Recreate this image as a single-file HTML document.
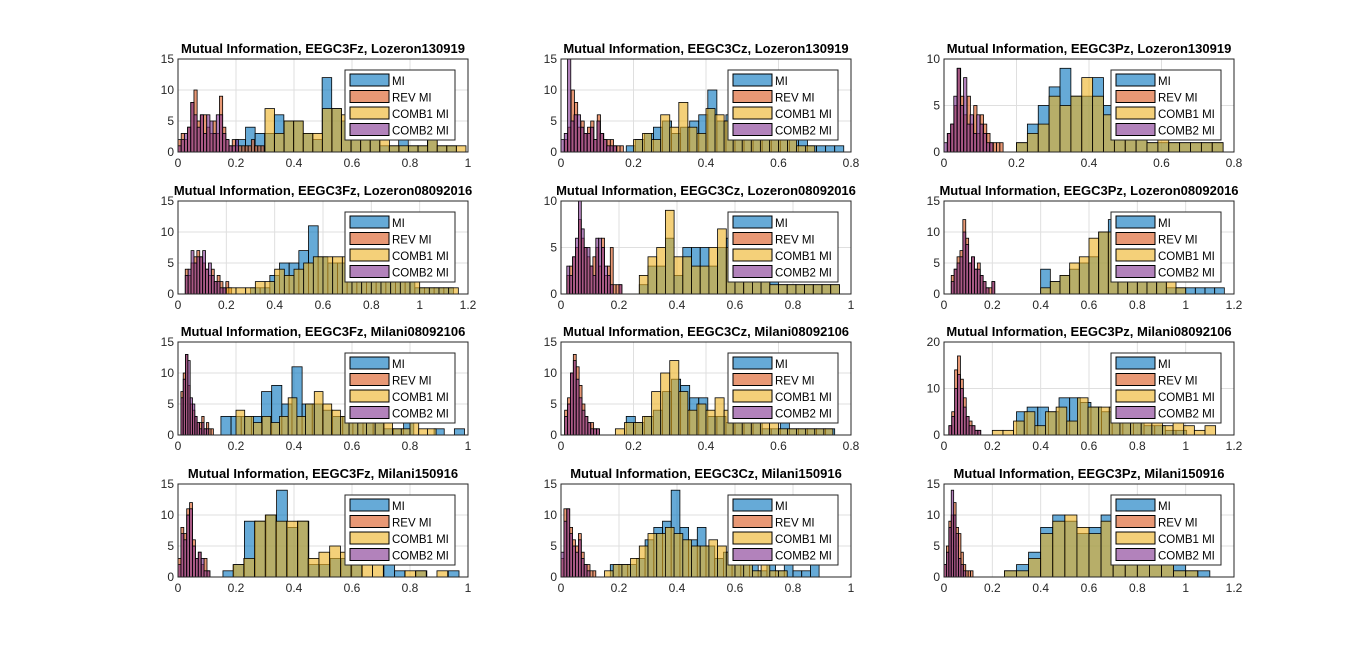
<!DOCTYPE html>
<html><head><meta charset="utf-8"><style>
body{margin:0;background:#fff;}
svg{display:block;font-family:"Liberation Sans",Arial,sans-serif;}
</style></head><body>
<svg id="fig" width="1366" height="651" viewBox="0 0 1366 651"></svg>
<script>
// ---- data ----
const titles = [
 "Mutual Information, EEGC3Fz, Lozeron130919","Mutual Information, EEGC3Cz, Lozeron130919","Mutual Information, EEGC3Pz, Lozeron130919",
 "Mutual Information, EEGC3Fz, Lozeron08092016","Mutual Information, EEGC3Cz, Lozeron08092016","Mutual Information, EEGC3Pz, Lozeron08092016",
 "Mutual Information, EEGC3Fz, Milani08092106","Mutual Information, EEGC3Cz, Milani08092106","Mutual Information, EEGC3Pz, Milani08092106",
 "Mutual Information, EEGC3Fz, Milani150916","Mutual Information, EEGC3Cz, Milani150916","Mutual Information, EEGC3Pz, Milani150916"];
const xMax = [1,0.8,0.8, 1.2,1,1.2, 1,0.8,1.2, 1,1,1.2];
const yMax = [15,15,10, 15,10,15, 15,15,20, 15,15,15];
const seriesNames = ["MI","REV MI","COMB1 MI","COMB2 MI"];
// each: [binStart, binWidth, counts]
const miBins = [
 [0.2,0.033,[2,4,3,3,6,5,5,3,2,12,7,5,5,2,2,1,1,2,1,1,2,1,1]],
 [0.18,0.025,[1,2,3,4,5,3,4,5,6,10,5,6,6,6,6,4,2,2,2,2,1,1,1,1]],
 [0.2,0.03,[1,3,5,7,9,6,6,8,5,2,2,2,1,1,1,1,1,1,1]],
 [0.3,0.04,[1,1,3,5,5,7,11,6,5,5,5,5,4,3,2,2,2,1,1,1,1]],
 [0.27,0.03,[1,3,3,6,2,5,5,5,3,5,6,4,3,3,3,2,1,1,1,1,1,1,1]],
 [0.4,0.04,[4,2,3,4,5,6,10,12,7,5,3,2,2,1,1,1,1,1,1]],
 [0.148,0.035,[3,3,3,3,7,8,5,11,5,5,4,3,3,3,2,2,1,1,2,0,0,1,0,1]],
 [0.18,0.025,[3,2,3,4,7,9,8,6,6,3,3,2,2,2,2,1,1,2,1,1,1,1,1]],
 [0.3,0.044,[5,6,6,5,8,8,7,6,5,4,3,3,2,2,1,1]],
 [0.155,0.037,[1,2,9,9,10,14,8,9,2,2,3,3,3,0,0,2,1,0,1,0,0,1]],
 [0.17,0.03,[2,2,2,3,6,8,9,14,8,6,8,5,3,4,3,2,2,1,2,1,2,1,1,2]],
 [0.25,0.05,[1,2,4,8,10,9,7,8,10,8,5,4,3,2,2,1,1]]];
const revBins = [
 [0.0,0.011,[2,3,2,4,8,10,5,6,6,4,3,5,3,9,4,2,1,2,1,1,1,1,1,2,1,1,1]],
 [0.01,0.009,[2,4,10,8,4,5,3,4,5,2,6,3,2,2,2,1,1,1]],
 [0.01,0.009,[2,3,5,9,6,4,6,3,5,2,4,3,2,1,1,1,1]],
 [0.03,0.012,[4,3,5,6,7,6,5,4,3,4,2,3,2,1,2,1]],
 [0.02,0.01,[2,3,4,5,8,6,5,4,3,4,5,3,6,2,3,5,1,1,1]],
 [0.03,0.012,[3,4,6,7,12,9,5,6,4,5,3,2,1,1,2]],
 [0.01,0.008,[7,10,13,8,5,4,3,2,2,3,1,2,1,1]],
 [0.01,0.008,[4,6,10,13,11,8,5,3,2,2,1,1]],
 [0.02,0.012,[2,5,14,17,12,8,4,3,2,1,1]],
 [0.0,0.01,[3,8,7,11,12,6,3,4,2,3,1]],
 [0.0,0.01,[3,11,11,8,6,5,7,4,2,2,1,1]],
 [0.0,0.01,[2,5,9,10,12,8,7,4,2,1,1,1]]];
const comb1Bins = [
 [0.3,0.033,[7,3,5,5,3,3,7,7,6,4,2,2,3,1,1,1,1,3,1,1,1]],
 [0.2,0.025,[2,3,2,6,4,8,4,3,7,6,5,6,3,2,2,2,2,2,1,1]],
 [0.2,0.03,[1,2,3,6,5,6,8,6,4,3,2,2,1,2,1,1,1,1,1]],
 [0.2,0.04,[1,1,1,2,2,4,3,4,5,6,6,6,6,4,4,4,3,3,2,2,1,1,1,1]],
 [0.27,0.03,[2,4,5,9,4,4,3,3,5,7,5,4,3,2,2,1,1,1,1,1,1,1,1]],
 [0.4,0.04,[1,2,3,5,6,9,10,10,12,8,5,3,2,2,1]],
 [0.2,0.03,[4,3,2,3,2,3,6,3,5,7,5,4,3,2,2,4,3,2,1,1,2,1,1]],
 [0.15,0.025,[1,2,2,3,7,10,12,7,4,5,4,6,4,3,2,2,2,2,1,1,1,1,1,1]],
 [0.2,0.044,[1,1,3,5,2,5,6,3,8,6,6,6,5,4,4,3,2,3,2,1,2]],
 [0.19,0.037,[2,3,9,10,9,9,9,3,4,5,4,9,2,2,0,0,1,1,0,1,0]],
 [0.15,0.03,[1,2,2,3,5,7,7,8,7,6,5,5,6,5,4,3,2,1,2,1,1]],
 [0.25,0.05,[1,1,3,7,9,10,8,7,9,7,6,4,2,2,1,1]]];
const comb2Bins = [
 [0.0,0.011,[1,2,3,4,8,6,4,6,3,6,5,3,6,6,3,2,1,1,2]],
 [0.0,0.009,[2,3,15,5,6,6,4,3,3,4,2,5,3,2,1,1,1]],
 [0.0,0.009,[1,2,3,6,9,5,8,3,4,2,4,3,2,1,1]],
 [0.03,0.012,[3,4,7,5,6,6,7,4,5,3,2,2,1,1]],
 [0.02,0.01,[3,2,4,6,10,7,5,5,3,2,6,6,5,3,2,1,0,0,1]],
 [0.03,0.012,[2,4,5,6,10,8,5,6,4,4,3,2,1,0,2]],
 [0.01,0.008,[6,9,13,12,6,5,3,2,1,2,1,1]],
 [0.01,0.008,[3,5,10,12,9,6,4,3,2,1,1,1]],
 [0.02,0.012,[2,4,10,13,10,6,4,2,2,1,1]],
 [0.0,0.01,[2,7,6,10,11,5,3,4,3,1,1]],
 [0.0,0.01,[4,9,11,7,5,4,6,3,2,1]],
 [0.0,0.01,[2,4,8,14,10,7,3,2,1]]];
const colors = ["#0072BD","#D95319","#EDB120","#7E2F8E"];
// ---- layout ----
const colX = [178,561,944], rowY = [59,201,342,484], AW = 290, AH = 93;
const NS = "http://www.w3.org/2000/svg";
const svg = document.getElementById("fig");
function mk(tag, attrs, parent){const e=document.createElementNS(NS,tag);for(const k in attrs)e.setAttribute(k,attrs[k]);(parent||svg).appendChild(e);return e;}
function fmt(v){return (Math.round(v*10)/10).toString();}
for(let i=0;i<12;i++){
  const x0=colX[i%3], y0=rowY[Math.floor(i/3)];
  const g=mk("g",{});
  
  
  const sx=v=>x0+v/xMax[i]*AW, sy=v=>y0+AH-v/yMax[i]*AH;
  mk("rect",{x:x0,y:y0,width:AW,height:AH,fill:"#fff"},g);
  const xs = xMax[i]===1?[0,0.2,0.4,0.6,0.8,1]:xMax[i]===0.8?[0,0.2,0.4,0.6,0.8]:[0,0.2,0.4,0.6,0.8,1,1.2];
  const ys = yMax[i]===15?[0,5,10,15]:yMax[i]===10?[0,5,10]:[0,10,20];
  xs.forEach(v=>{const X=sx(v);
    if(v>0&&v<xMax[i]) mk("line",{x1:X,x2:X,y1:y0,y2:y0+AH,stroke:"#dfdfdf","stroke-width":1},g);
    const t=mk("text",{x:X,y:y0+AH+15,"font-size":12,fill:"#262626","text-anchor":"middle"},g);t.textContent=fmt(v);
    
    });
  ys.forEach(v=>{const Y=sy(v);
    if(v>0&&v<yMax[i]) mk("line",{x1:x0,x2:x0+AW,y1:Y,y2:Y,stroke:"#dfdfdf","stroke-width":1},g);
    const t=mk("text",{x:x0-4,y:Y+4,"font-size":12,fill:"#262626","text-anchor":"end"},g);t.textContent=v;
    
    });
  [miBins,revBins,comb1Bins,comb2Bins].forEach((arr,s)=>{
    const [st,w,c]=arr[i];
    c.forEach((n,k)=>{ if(!n) return;
      if(st+(k+1)*w>xMax[i]+1e-9) return;
      const r=mk("rect",{x:sx(st+k*w),y:sy(n),width:sx(st+(k+1)*w)-sx(st+k*w),height:sy(0)-sy(n),fill:colors[s],"fill-opacity":0.6,stroke:"#000","stroke-width":0.8},g);
      
      
    });
  });
  mk("rect",{x:x0,y:y0,width:AW,height:AH,fill:"none",stroke:"#262626","stroke-width":1},g);
  const tt=mk("text",{x:x0+AW/2,y:y0-6,"font-size":13,"font-weight":"bold",fill:"#000","text-anchor":"middle"},g);
  tt.textContent=titles[i];
  
  
  const lx=x0+AW-123, ly=y0+11;
  const lg=mk("g",{},g);
  
  
  mk("rect",{x:lx,y:ly,width:110,height:70,fill:"#fff",stroke:"#262626","stroke-width":1},lg);
  seriesNames.forEach((nm,s)=>{
    const yy=ly+4+s*16.5;
    mk("rect",{x:lx+5,y:yy,width:39,height:12,fill:colors[s],"fill-opacity":0.6,stroke:"#000","stroke-width":1},lg);
    const t=mk("text",{x:lx+47,y:yy+11,"font-size":11.5,fill:"#000"},lg);t.textContent=nm;
    
    
  });
}
</script>
</body></html>
